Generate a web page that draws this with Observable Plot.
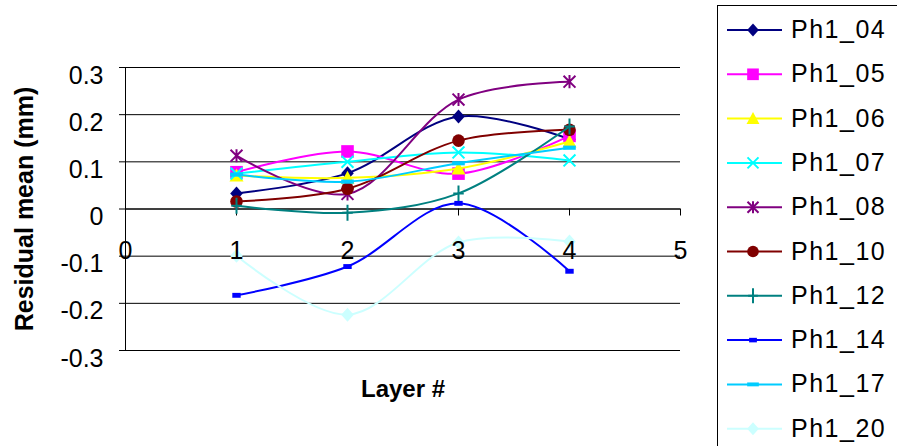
<!DOCTYPE html>
<html>
<head>
<meta charset="utf-8">
<script src="https://cdn.jsdelivr.net/npm/d3@7"></script>
<script src="https://cdn.jsdelivr.net/npm/@observablehq/plot@0.6"></script>
<style>
  html, body { margin: 0; padding: 0; background: #fff; }
  #wrap { position: relative; width: 897px; height: 446px; overflow: hidden; }
  #legend { position: absolute; left: 0; top: 0; }
</style>
</head>
<body>
<div id="wrap"></div>
<script>
// ---- data ----
const layers = [1, 2, 3, 4];
const seriesNames = ["Ph1_04", "Ph1_05", "Ph1_06", "Ph1_07", "Ph1_08", "Ph1_10", "Ph1_12", "Ph1_14", "Ph1_17", "Ph1_20"];
const ph1_04 = [0.033, 0.076, 0.196, 0.148];
const ph1_05 = [0.078, 0.122, 0.075, 0.155];
const ph1_06 = [0.071, 0.066, 0.086, 0.143];
const ph1_07 = [0.075, 0.100, 0.120, 0.103];
const ph1_08 = [0.113, 0.032, 0.232, 0.270];
const ph1_10 = [0.016, 0.043, 0.145, 0.168];
const ph1_12 = [0.007, -0.008, 0.033, 0.175];
const ph1_14 = [-0.183, -0.122, 0.012, -0.132];
const ph1_17 = [0.073, 0.058, 0.097, 0.130];
const ph1_20 = [-0.099, -0.224, -0.071, -0.069];
const seriesValues = [ph1_04, ph1_05, ph1_06, ph1_07, ph1_08, ph1_10, ph1_12, ph1_14, ph1_17, ph1_20];
const seriesColors = ["#000080", "#FF00FF", "#FFFF00", "#00FFFF", "#800080", "#800000", "#008080", "#0000FF", "#00CCFF", "#CCFFFF"];
const xTicks = [0, 1, 2, 3, 4, 5];
const xTickLabels = ["0", "1", "2", "3", "4", "5"];
const yTicks = [-0.3, -0.2, -0.1, 0, 0.1, 0.2, 0.3];
const yTickLabels = ["-0.3", "-0.2", "-0.1", "0", "0.1", "0.2", "0.3"];
const xTitle = "Layer #";
const yTitle = "Residual mean (mm)";

// ---- marker shapes (Excel-like) ----
const rad = (size) => Math.sqrt(size / Math.PI);
const symDiamond = { draw(c, s) { const r = rad(s); c.moveTo(0, -r); c.lineTo(r * 0.9, 0); c.lineTo(0, r); c.lineTo(-r * 0.9, 0); c.closePath(); } };
const symSquare = { draw(c, s) { const r = rad(s) * 0.9; c.moveTo(-r, -r); c.lineTo(r, -r); c.lineTo(r, r); c.lineTo(-r, r); c.closePath(); } };
const symTriangle = { draw(c, s) { const r = rad(s); c.moveTo(0, -r); c.lineTo(r, r * 0.85); c.lineTo(-r, r * 0.85); c.closePath(); } };
const symX = { draw(c, s) { const r = rad(s) * 0.85; c.moveTo(-r, -r); c.lineTo(r, r); c.moveTo(r, -r); c.lineTo(-r, r); } };
const symStar = { draw(c, s) { const r = rad(s) * 0.85; c.moveTo(-r, -r); c.lineTo(r, r); c.moveTo(r, -r); c.lineTo(-r, r); c.moveTo(0, -r * 1.1); c.lineTo(0, r * 1.1); } };
const symCircle = { draw(c, s) { const r = rad(s) * 0.9; c.moveTo(r, 0); c.arc(0, 0, r, 0, 2 * Math.PI); } };
const symPlus = { draw(c, s) { const r = rad(s); c.moveTo(0, -r * 1.15); c.lineTo(0, r * 1.15); c.moveTo(-r * 0.75, 0); c.lineTo(r * 0.75, 0); } };
const symDashS = { draw(c, s) { const r = rad(s); c.moveTo(-r * 0.6, -r * 0.35); c.lineTo(r * 0.6, -r * 0.35); c.lineTo(r * 0.6, r * 0.35); c.lineTo(-r * 0.6, r * 0.35); c.closePath(); } };
const symDashL = { draw(c, s) { const r = rad(s); c.moveTo(-r * 0.9, -r * 0.3); c.lineTo(r * 0.9, -r * 0.3); c.lineTo(r * 0.9, r * 0.3); c.lineTo(-r * 0.9, r * 0.3); c.closePath(); } };
const seriesSymbols = [symDiamond, symSquare, symTriangle, symX, symStar, symCircle, symPlus, symDashS, symDashL, symDiamond];
const strokedSymbols = new Set([symX, symStar, symPlus]);

// ---- build rows ----
const series = seriesNames.map((name, i) => ({
  name, color: seriesColors[i], symbol: seriesSymbols[i],
  rows: layers.map((x, j) => ({ x, y: seriesValues[i][j], name }))
}));

const marks = [];
// gridlines
marks.push(Plot.ruleY(yTicks, { y: d => d, x1: 0, x2: 5, stroke: "#000", strokeWidth: 1 }));
// axes lines
marks.push(Plot.ruleX([0], { x: d => d, y1: -0.3, y2: 0.3, stroke: "#000", strokeWidth: 1 }));
marks.push(Plot.ruleY([0], { y: d => d, x1: 0, x2: 5, stroke: "#000", strokeWidth: 1 }));
// y ticks
marks.push(Plot.ruleY(yTicks, { y: d => d, x1: 0, x2: 0, insetLeft: -6, stroke: "#000" }));
// x ticks
marks.push(Plot.ruleX(xTicks, { x: d => d, y1: 0, y2: 0, insetBottom: -7, stroke: "#000" }));

// series: line then markers, in order
for (const s of series) {
  marks.push(Plot.line(s.rows, { x: "x", y: "y", stroke: s.color, strokeWidth: 2, curve: "catmull-rom" }));
  if (strokedSymbols.has(s.symbol)) {
    marks.push(Plot.dot(s.rows, { x: "x", y: "y", symbol: s.symbol, r: 7, fill: "none", stroke: s.color, strokeWidth: 2 }));
  } else {
    marks.push(Plot.dot(s.rows, { x: "x", y: "y", symbol: s.symbol, r: 7, fill: s.color, stroke: "none" }));
  }
}

// tick labels
marks.push(Plot.text(yTicks, { x: 0, y: d => d, text: (d, i) => yTickLabels[i], textAnchor: "end", dx: -22, dy: 8, fontSize: 25, fill: "#000" }));
marks.push(Plot.text(xTicks, { x: d => d, y: 0, text: (d, i) => xTickLabels[i], textAnchor: "middle", dy: 42, fontSize: 25, fill: "#000" }));
// titles
marks.push(Plot.text([xTitle], { frameAnchor: "bottom", text: d => d, dy: 46, fontSize: 24, fontWeight: "bold", fill: "#000" }));
marks.push(Plot.text([yTitle], { frameAnchor: "left", text: d => d, textAnchor: "middle", rotate: -90, dx: -101, dy: 0, fontSize: 25, fontWeight: "bold", fill: "#000", letterSpacing: "1.8px" }));

const chart = Plot.plot({
  width: 897,
  height: 446,
  marginLeft: 125,
  marginRight: 217,
  marginTop: 67,
  marginBottom: 96,
  x: { domain: [0, 5], axis: null },
  y: { domain: [-0.3, 0.3], axis: null },
  style: { fontFamily: "'Liberation Sans', Arial, sans-serif", fontSize: "25px", background: "#fff", color: "#000", overflow: "visible" },
  marks
});
document.getElementById("wrap").appendChild(chart);

// ---- legend ----
const lg = d3.create("svg").attr("id", "legend").attr("width", 897).attr("height", 446)
  .style("font-family", "'Liberation Sans', Arial, sans-serif");
lg.append("rect").attr("x", 717.5).attr("y", 5.5).attr("width", 300).attr("height", 500)
  .attr("fill", "#fff").attr("stroke", "#000").attr("stroke-width", 1);
series.forEach((s, i) => {
  const cy = 30 + i * 44.3;
  const g = lg.append("g");
  g.append("line").attr("x1", 727).attr("x2", 782).attr("y1", cy).attr("y2", cy)
    .attr("stroke", s.color).attr("stroke-width", 2);
  const p = d3.symbol(s.symbol, 42 * Math.PI)();
  const stroked = strokedSymbols.has(s.symbol);
  g.append("path").attr("d", p).attr("transform", `translate(753,${cy})`)
    .attr("fill", stroked ? "none" : s.color).attr("stroke", stroked ? s.color : "none").attr("stroke-width", 2);
  g.append("text").attr("x", 791).attr("y", cy + 8).attr("font-size", 25).attr("letter-spacing", "1.5px")
    .attr("fill", "#000").text(s.name);
});
document.getElementById("wrap").appendChild(lg.node());
</script>
</body>
</html>
